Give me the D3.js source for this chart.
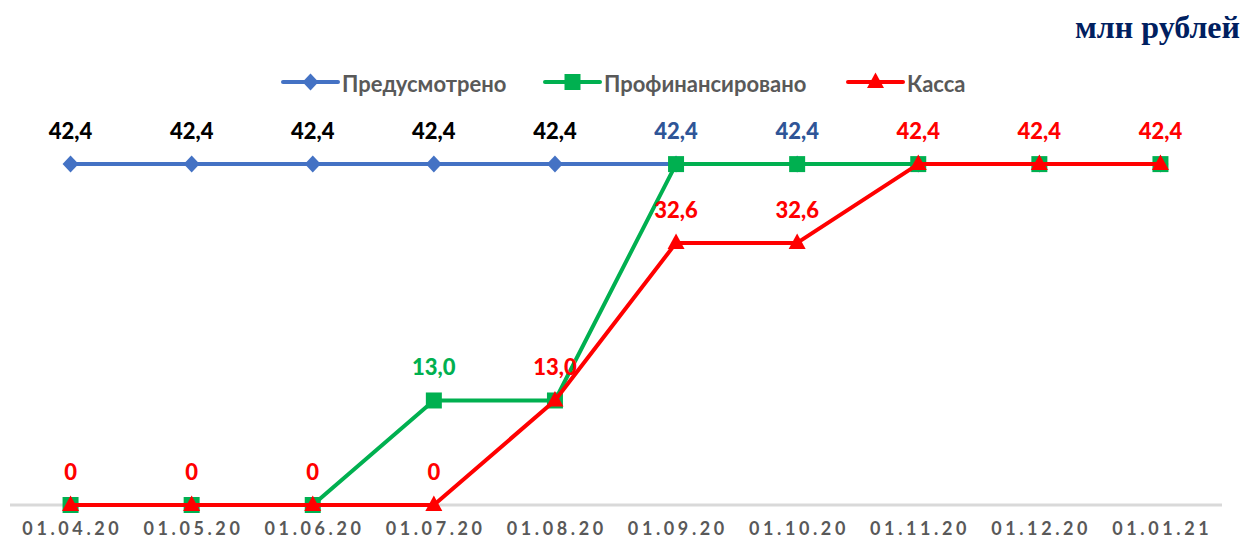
<!DOCTYPE html>
<html><head><meta charset="utf-8">
<script src="https://cdn.jsdelivr.net/npm/d3@7"></script>
<style>body{margin:0;background:#fff}svg{display:block}</style>
</head><body>
<svg id="c" width="1244" height="539"></svg>
<script>
const categories = ["01.04.20","01.05.20","01.06.20","01.07.20","01.08.20","01.09.20","01.10.20","01.11.20","01.12.20","01.01.21"];
const planned = [42.4,42.4,42.4,42.4,42.4,42.4,42.4,42.4,42.4,42.4];
const financed = [0,0,0,13.0,13.0,42.4,42.4,42.4,42.4,42.4];
const cash = [0,0,0,0,13.0,32.6,32.6,42.4,42.4,42.4];
const seriesNames = ["Предусмотрено","Профинансировано","Касса"];
const unitLabel = "млн рублей";
// which points of each series carry a data label
const plannedLabelIdx = [0,1,2,3,4];
const financedLabelIdx = [3,5,6];
const cashLabelIdx = [0,1,2,3,4,5,6,7,8,9];

const fmt = v => v === 0 ? "0" : d3.format(".1f")(v).replace(".", ",");
const svg = d3.select("#c");
const x = d3.scaleBand().domain(categories).range([10, 1221]).padding(0);
const cx = c => x(c) + x.bandwidth()/2;
const y = d3.scaleLinear().domain([0, 50]).range([505, 103]);

// baseline gridline
svg.append("line").attr("x1",10).attr("x2",1222).attr("y1",y(0)).attr("y2",y(0))
  .attr("stroke","#d9d9d9").attr("stroke-width",3);

// x axis labels
const xAxis = d3.axisBottom(x).tickSize(0).tickPadding(0);
const gx = svg.append("g").attr("transform",`translate(0,${y(0)})`).call(xAxis);
gx.select(".domain").remove();
gx.selectAll("text").attr("y",30).attr("dy",0).attr("dx","1.8px")
  .attr("font-family","Lato, sans-serif").attr("font-weight","bold").attr("font-size",18)
  .attr("letter-spacing","3.6px").attr("fill","#595959");

const markers = {
  diamond: "M0,-8.5L8,0L0,8.5L-8,0Z",
  square: "M-8,-8H8V8H-8Z",
  triangle: "M0,-9.5L8.5,6L-8.5,6Z"
};
const series = [
  {name:seriesNames[0], vals:planned, color:"#4472C4", marker:"diamond", labels:plannedLabelIdx, lc:()=>"#000000"},
  {name:seriesNames[1], vals:financed, color:"#00B050", marker:"square", labels:financedLabelIdx, lc:i=> i===3 ? "#00B050" : "#2F5597"},
  {name:seriesNames[2], vals:cash, color:"#FF0000", marker:"triangle", labels:cashLabelIdx, lc:()=>"#FF0000"}
];
const line = d3.line().x((d,i)=>cx(categories[i])).y(d=>y(d));

series.forEach(s=>{
  const g = svg.append("g");
  g.append("path").datum(s.vals).attr("d",line).attr("fill","none")
    .attr("stroke",s.color).attr("stroke-width",4).attr("stroke-linejoin","round");
  g.selectAll("path.m").data(s.vals).join("path").attr("class","m")
    .attr("transform",(d,i)=>`translate(${cx(categories[i])},${y(d)})`)
    .attr("d",markers[s.marker]).attr("fill",s.color);
});
series.forEach(s=>{
  svg.append("g").selectAll("text").data(s.labels).join("text")
    .attr("x",i=>cx(categories[i])).attr("y",i=>y(s.vals[i]) - 25)
    .attr("text-anchor","middle").attr("font-family","Lato, sans-serif").attr("font-weight","900")
    .attr("font-size",22).attr("fill",i=>s.lc(i))
    .text(i=>fmt(s.vals[i]));
});

// legend
const legendX = [283, 545, 848];
const lg = svg.append("g");
series.forEach((s,k)=>{
  const g = lg.append("g").attr("transform",`translate(${legendX[k]},82)`);
  g.append("line").attr("x1",0).attr("x2",55).attr("stroke",s.color).attr("stroke-width",4).attr("stroke-linecap","round");
  g.append("path").attr("transform","translate(27.5,0)").attr("d",markers[s.marker]).attr("fill",s.color);
  g.append("text").attr("x",59).attr("y",10).attr("font-family","Lato, sans-serif").attr("font-weight","bold")
    .attr("font-size",22).attr("fill","#595959").text(s.name);
});

// unit label
svg.append("text").attr("x",1240).attr("y",38).attr("text-anchor","end")
  .attr("font-family","'Liberation Serif', serif").attr("font-weight","bold").attr("font-size",32)
  .attr("fill","#002060").text(unitLabel);
</script>
</body></html>
